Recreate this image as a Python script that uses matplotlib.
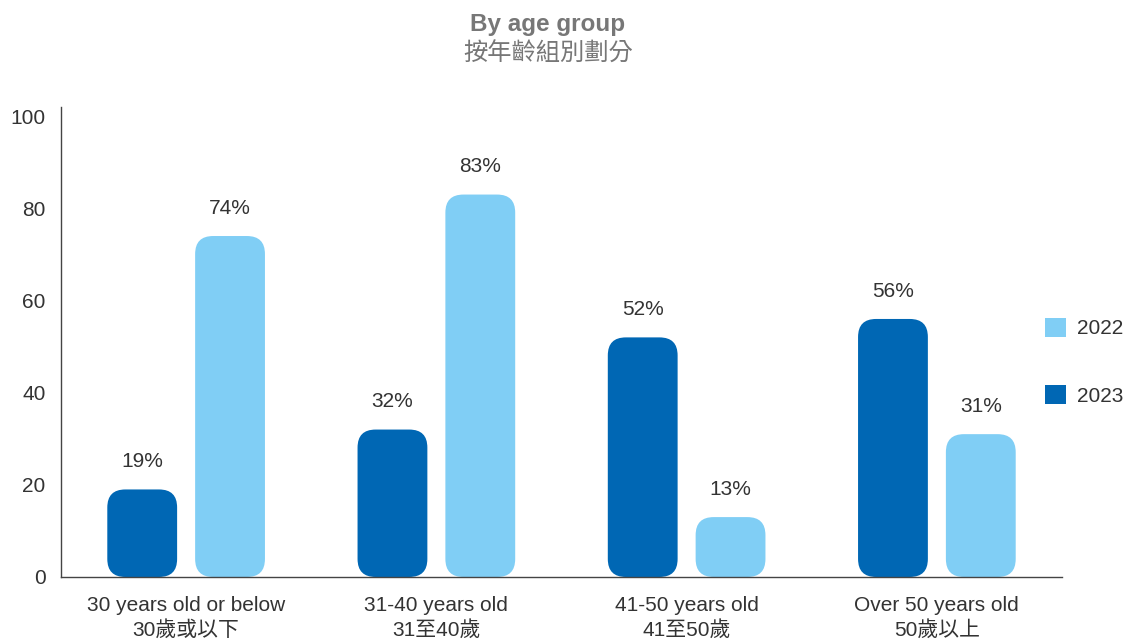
import matplotlib
matplotlib.use("Agg")
import matplotlib.pyplot as plt
from matplotlib.patches import FancyBboxPatch, Patch
import numpy as np

plt.rcParams["font.family"] = ["Liberation Sans", "Noto Sans CJK TC", "DejaVu Sans"]

categories = [
    "30 years old or below\n30歲或以下",
    "31-40 years old\n31至40歲",
    "41-50 years old\n41至50歲",
    "Over 50 years old\n50歲以上",
]
values_2023 = [19, 32, 52, 56]
values_2022 = [74, 83, 13, 31]
yticks = [0, 20, 40, 60, 80, 100]

color_2023 = "#0067b4"
color_2022 = "#80cef5"
text_color = "#333333"
fs = 15

W, H = 1126, 642
fig = plt.figure(figsize=(W / 100, H / 100), dpi=100)
ax_left, ax_right, ax_top, ax_bottom = 61, 1062, 107, 577
ax = fig.add_axes([ax_left / W, (H - ax_bottom) / H,
                   (ax_right - ax_left) / W, (ax_bottom - ax_top) / H])

xlim = (-0.5, len(categories) - 0.5)
ylim = (0, 102)
ax.set_xlim(*xlim)
ax.set_ylim(*ylim)

# keep the corner radius round on screen despite different x/y scales
px_x = (ax_right - ax_left) / (xlim[1] - xlim[0])
px_y = (ax_bottom - ax_top) / (ylim[1] - ylim[0])
aspect = px_x / px_y

bar_w = 0.279
offset = 0.1755
radius = 18 / px_x

x = np.arange(len(categories))
for series, color, sign in [(values_2023, color_2023, -1), (values_2022, color_2022, 1)]:
    for xi, v in zip(x, series):
        cx = xi + sign * offset
        patch = FancyBboxPatch(
            (cx - bar_w / 2, 0), bar_w, v,
            boxstyle=f"round,pad=0,rounding_size={radius}",
            mutation_aspect=aspect,
            facecolor=color, edgecolor="none", zorder=2,
        )
        ax.add_patch(patch)
        ax.annotate(f"{v}%", (cx, v), xytext=(0, 20), textcoords="offset points",
                    ha="center", va="center", fontsize=fs, color=text_color)

ax.set_xticks(x)
ax.set_xticklabels(categories, fontsize=fs, color=text_color, linespacing=1.3)
ax.set_yticks(yticks)
ax.set_yticklabels([str(t) for t in yticks], fontsize=fs, color=text_color)
ax.tick_params(axis="both", length=0)
ax.tick_params(axis="x", pad=14)
ax.tick_params(axis="y", pad=11)

for side in ["top", "right"]:
    ax.spines[side].set_visible(False)
for side in ["left", "bottom"]:
    ax.spines[side].set_color("#444444")
    ax.spines[side].set_linewidth(1.0)

handles = [Patch(facecolor=color_2022, label="2022"),
           Patch(facecolor=color_2023, label="2023")]
leg = fig.legend(handles=handles, loc="upper left",
                 bbox_to_anchor=(1045 / W, (H - 318) / H),
                 frameon=False, fontsize=fs, borderpad=0, borderaxespad=0,
                 handlelength=1.0, handleheight=1.0, handletextpad=0.55,
                 labelspacing=2.25)
for t in leg.get_texts():
    t.set_color(text_color)

fig.text(548 / W, 1 - 25 / H, "By age group", ha="center", va="center",
         fontsize=17.5, fontweight="bold", color="#777777")
fig.text(548 / W, 1 - 54 / H, "按年齡組別劃分", ha="center", va="center",
         fontsize=17.5, fontweight="medium", color="#777777")

fig.savefig("out.png", dpi=100)
